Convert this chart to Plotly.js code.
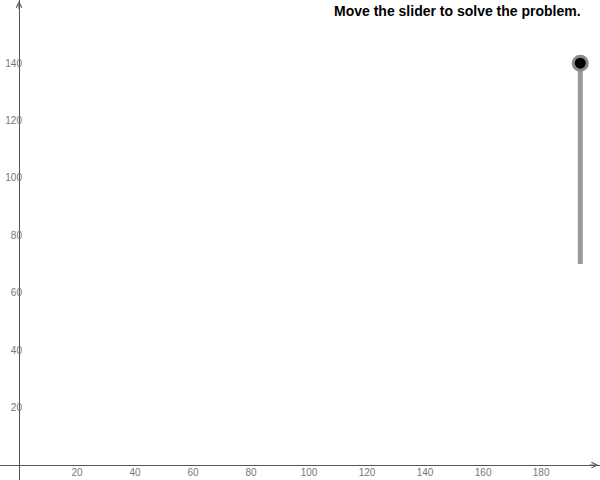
<!DOCTYPE html>
<html>
<head>
<meta charset="utf-8">
<script src="https://cdn.plot.ly/plotly-3.0.1.min.js"></script>
<style>
  html, body { margin: 0; padding: 0; background: #fff; }
  #myDiv { width: 600px; height: 480px; }
</style>
</head>
<body>
<div id="myDiv"></div>
<script>
// Ticks de los ejes
const xTicks = [20, 40, 60, 80, 100, 120, 140, 160, 180];
const yTicks = [20, 40, 60, 80, 100, 120, 140];

// Deslizador vertical (recorrido y valor actual)
const sliderX = [193.5, 193.5];
const sliderY = [70, 140];
const sliderValue = [140];

const titleText = "Move the slider to solve the problem.";

// Rango visible de los ejes
const xRange = [-6.55, 200.3];
const yRange = [-5.2, 162];

// Recorrido del deslizador
var track = {
  x: sliderX,
  y: sliderY,
  type: "scatter",
  mode: "lines",
  line: { color: "#999", width: 5 },
  hoverinfo: "none",
};

// Punto del deslizador
var knob = {
  x: [sliderX[0]],
  y: sliderValue,
  type: "scatter",
  mode: "markers",
  marker: { color: "#000", size: 14, line: { color: "#8a8a8a", width: 3 } },
  hoverinfo: "none",
};

// Posición de los ejes (donde cae el cero) en fracción del papel
var xZero = (0 - xRange[0]) / (xRange[1] - xRange[0]);
var yZero = (0 - yRange[0]) / (yRange[1] - yRange[0]);

var tickFont = { family: "Liberation Sans", size: 10, color: "#777" };

var layout = {
  width: 600,
  height: 480,
  margin: { l: 0, r: 0, t: 0, b: 0 },
  paper_bgcolor: "#fff",
  plot_bgcolor: "#fff",
  showlegend: false,
  xaxis: {
    range: xRange,
    anchor: "free",
    position: yZero,
    showgrid: false,
    zeroline: false,
    showline: true,
    linecolor: "#555",
    linewidth: 1,
    ticks: "",
    tickvals: xTicks,
    ticktext: xTicks.map(String),
    tickfont: tickFont,
    ticklabelstandoff: -2,
  },
  yaxis: {
    range: yRange,
    anchor: "free",
    position: xZero,
    showgrid: false,
    zeroline: false,
    showline: true,
    linecolor: "#555",
    linewidth: 1,
    ticks: "",
    tickvals: yTicks,
    ticktext: yTicks.map(String),
    tickfont: tickFont,
    ticklabelstandoff: -5,
  },
  annotations: [
    {
      text: "<b>" + titleText + "</b>",
      xref: "paper",
      yref: "paper",
      x: 0.972,
      y: 0.997,
      xanchor: "right",
      yanchor: "top",
      showarrow: false,
      font: { family: "Liberation Sans", size: 14, color: "#000" },
    },
    // Flecha del eje x
    {
      xref: "paper",
      yref: "paper",
      x: 0.997,
      y: yZero,
      ax: -10,
      ay: 0,
      text: "",
      showarrow: true,
      arrowhead: 5,
      arrowsize: 1.1,
      arrowwidth: 1,
      arrowcolor: "#555",
    },
    // Flecha del eje y
    {
      xref: "paper",
      yref: "paper",
      x: xZero,
      y: 0.999,
      ax: 0,
      ay: 10,
      text: "",
      showarrow: true,
      arrowhead: 5,
      arrowsize: 1.1,
      arrowwidth: 1,
      arrowcolor: "#555",
    },
  ],
};

Plotly.newPlot("myDiv", [track, knob], layout, { displayModeBar: false, staticPlot: true });
</script>
</body>
</html>
